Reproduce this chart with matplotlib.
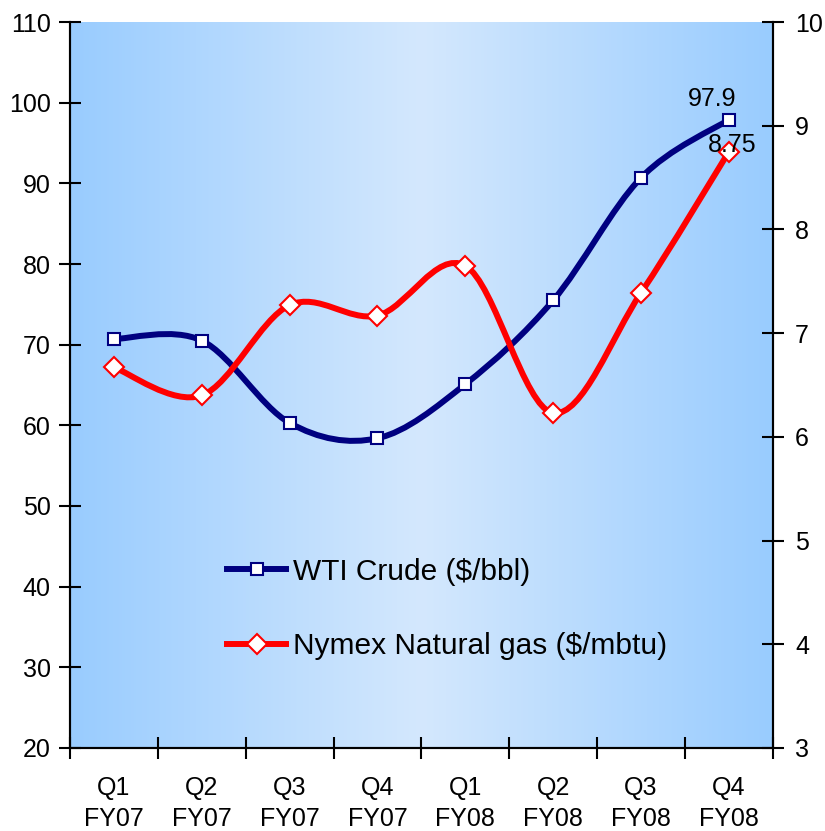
import numpy as np
import matplotlib.pyplot as plt
from matplotlib.path import Path
from matplotlib.patches import PathPatch
from matplotlib.lines import Line2D
from matplotlib.colors import LinearSegmentedColormap

plt.rcParams['font.family'] = ['Liberation Sans', 'DejaVu Sans']

quarters = ['Q1\nFY07', 'Q2\nFY07', 'Q3\nFY07', 'Q4\nFY07',
            'Q1\nFY08', 'Q2\nFY08', 'Q3\nFY08', 'Q4\nFY08']
wti = [70.7, 70.5, 60.3, 58.4, 65.1, 75.5, 90.7, 97.9]
gas = [6.67, 6.40, 7.27, 7.17, 7.65, 6.23, 7.39, 8.75]
wti_label = 'WTI Crude ($/bbl)'
gas_label = 'Nymex Natural gas ($/mbtu)'

navy = '#000080'
red = '#FF0000'


def smooth_path(x, y):
    # excel style smoothed line: catmull-rom as cubic bezier segments
    pts = np.column_stack([x, y]).astype(float)
    ext = np.vstack([pts[0], pts, pts[-1]])
    verts = [pts[0]]
    codes = [Path.MOVETO]
    for i in range(len(pts) - 1):
        p0, p1, p2, p3 = ext[i], ext[i + 1], ext[i + 2], ext[i + 3]
        verts += [p1 + (p2 - p0) / 6, p2 - (p3 - p1) / 6, p2]
        codes += [Path.CURVE4] * 3
    return Path(verts, codes)


fig = plt.figure(figsize=(8.25, 8.31), dpi=100)
ax = fig.add_axes([0.0848, 0.0999, 0.852, 0.8736])
ax2 = ax.twinx()

# horizontal gradient background
cmap = LinearSegmentedColormap.from_list(
    'bg', ['#99CCFF', '#D4E8FD', '#99CCFF'])
grad = np.linspace(0, 1, 256).reshape(1, -1)
ax.imshow(grad, cmap=cmap, aspect='auto', extent=[0, 1, 0, 1],
          transform=ax.transAxes, zorder=0)

xs = np.arange(len(quarters))
lw = 4.3

ax.add_patch(PathPatch(smooth_path(xs, wti), facecolor='none',
                       edgecolor=navy, lw=lw, zorder=3))
ax.plot(xs, wti, ls='none', marker='s', ms=9, mfc='white', mec=navy,
        mew=1.5, zorder=4)

ax2.add_patch(PathPatch(smooth_path(xs, gas), facecolor='none',
                        edgecolor=red, lw=lw, zorder=3))
ax2.plot(xs, gas, ls='none', marker='D', ms=10, mfc='white', mec=red,
         mew=1.5, zorder=4)

ax.annotate(f'{wti[-1]}', (xs[-1], wti[-1]), xytext=(-12, 15),
            textcoords='offset points', ha='center', va='center',
            fontsize=18, zorder=5)
ax2.annotate(f'{gas[-1]:.2f}', (xs[-1], gas[-1]), xytext=(2, 5),
             textcoords='offset points', ha='center', va='center',
             fontsize=18, zorder=5)

ax.set_xlim(-0.5, len(quarters) - 0.5)
ax.set_ylim(20, 110)
ax.set_yticks(range(20, 111, 10))
ax2.set_ylim(3, 10)
ax2.set_yticks(range(3, 11))

ax.set_xticks(np.arange(-0.5, len(quarters), 1.0))
ax.set_xticklabels([])
ax.set_xticks(xs, minor=True)
ax.set_xticklabels(quarters, minor=True, fontsize=18, linespacing=1.4)
ax.tick_params(axis='x', which='minor', length=0, pad=20)
ax.tick_params(axis='x', which='major', direction='inout', length=16,
               width=1.5)
ax.tick_params(axis='y', direction='inout', length=16, width=1.5,
               labelsize=18, pad=6)
ax2.tick_params(axis='y', direction='inout', length=16, width=1.5,
                labelsize=18, pad=8)

for a in (ax, ax2):
    a.spines['top'].set_visible(False)
    for s in ('left', 'right', 'bottom'):
        a.spines[s].set_linewidth(1.5)

handles = [
    Line2D([], [], color=navy, lw=lw, marker='s', ms=9, mfc='white',
           mec=navy, mew=1.5),
    Line2D([], [], color=red, lw=lw, marker='D', ms=10, mfc='white',
           mec=red, mew=1.5),
]
ax.legend(handles, [wti_label, gas_label], loc='upper left',
          bbox_to_anchor=(0.224, 0.262), frameon=False, fontsize=21.5,
          handlelength=1.95, handletextpad=0.25, labelspacing=1.55,
          borderpad=0, borderaxespad=0)

fig.savefig('out.png', dpi=100)
